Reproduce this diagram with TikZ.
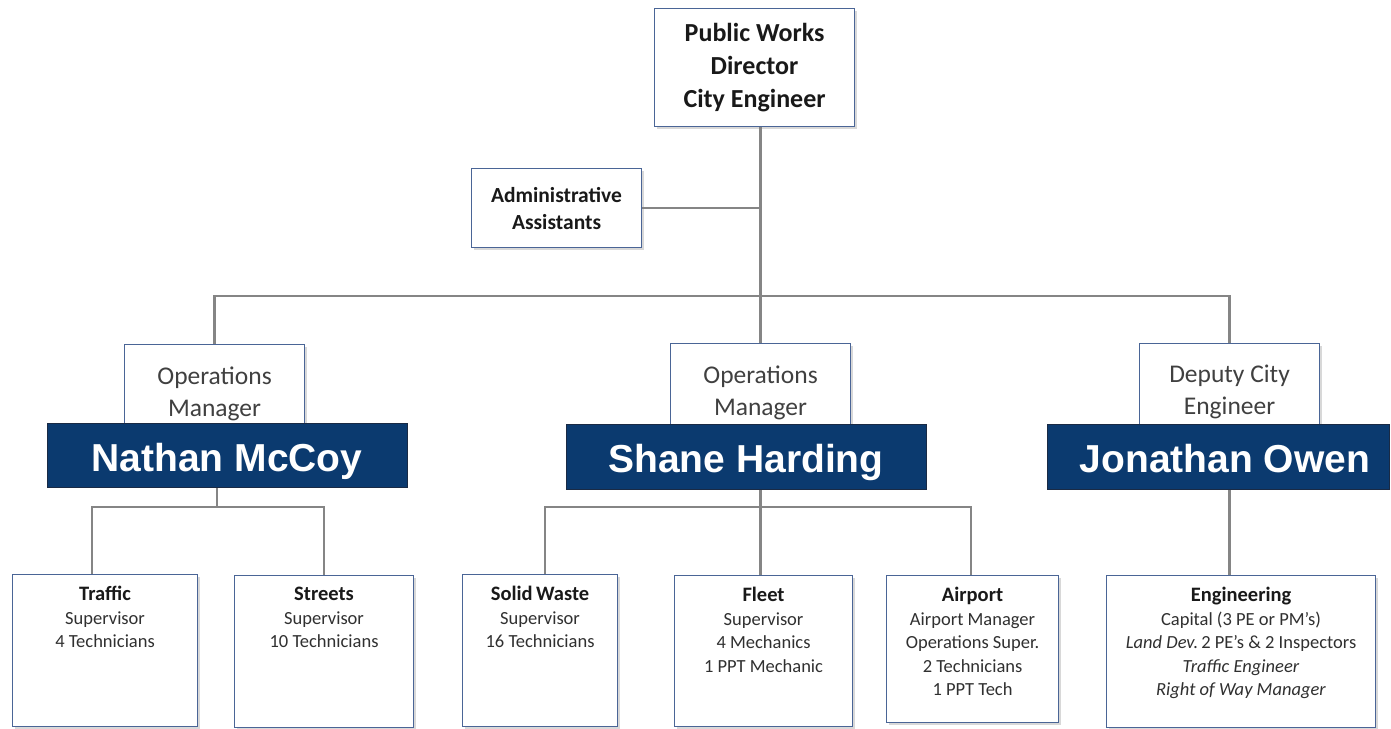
\documentclass[tikz,border=0pt]{standalone}
\usepackage{fontspec}
\setmainfont{Carlito}
\newfontfamily\arialfont{Liberation Sans}
\usetikzlibrary{shadows}
\definecolor{boxline}{HTML}{4A6596}
\definecolor{navy}{HTML}{0B3A6F}
\definecolor{navyline}{HTML}{1A2A44}
\definecolor{conncol}{HTML}{858585}
\definecolor{mgrtext}{HTML}{404040}
\definecolor{bodytext}{HTML}{303030}
\pgfdeclarelayer{bg}
\pgfdeclarelayer{paper}
\pgfsetlayers{paper,bg,main}
\begin{document}
\begin{tikzpicture}[x=1pt,y=-1pt,
  box/.style={draw=boxline, line width=1.1pt, fill=white,
    drop shadow={shadow xshift=2.5pt, shadow yshift=-2.5pt, opacity=0.3},
    inner sep=0pt, anchor=north west, align=center},
  topfont/.style={font=\fontsize{26}{33}\selectfont\bfseries, text=black!90},
  adminfont/.style={font=\fontsize{21.5}{27}\selectfont\bfseries, text=black!90},
  mgrfont/.style={font=\fontsize{25.5}{32}\selectfont, text=mgrtext},
  banner/.style={draw=navyline, line width=1pt, fill=navy, text=white, inner sep=0pt,
    text height=32pt, text depth=0pt,
    font=\arialfont\bfseries\fontsize{39}{45}\selectfont},
  unittext/.style={anchor=north, inner sep=0pt, align=center, yshift=-12pt,
    font=\fontsize{18.5}{23.5}\selectfont, text=bodytext},
  connector/.style={draw=conncol, line width=2.4pt}
]
\begin{pgfonlayer}{paper}
\useasboundingbox[fill=white] (0,0) rectangle (1391,727);
\end{pgfonlayer}

% top level
\node[box, topfont, minimum width=200pt, minimum height=118pt] (dir) at (654,8)
  {Public Works\\Director\\City Engineer};
\node[box, adminfont, minimum width=170pt, minimum height=79pt] (admin) at (471,168)
  {Administrative\\Assistants};

% managers
\node[box, mgrfont, minimum width=180pt, minimum height=98pt] (mgrL) at (124,344)
  {Operations\\Manager};
\node[box, mgrfont, minimum width=180pt, minimum height=98pt] (mgrM) at (670,343)
  {Operations\\Manager};
\node[box, mgrfont, minimum width=180pt, minimum height=96pt] (mgrR) at (1139,343)
  {Deputy City\\Engineer};

% name banners
\node[banner, minimum width=360pt, minimum height=64pt] (nameL) at (227,455) {Nathan McCoy};
\node[banner, minimum width=360pt, minimum height=65pt] (nameM) at (746,456.5) {Shane Harding};
\node[banner, minimum width=342pt, minimum height=65pt] (nameR) at (1218,456.5) {\hspace*{14pt}Jonathan Owen};

% units
\node[box, minimum width=185pt, minimum height=152pt] (traffic) at (12,574) {};
\node[unittext] (trafficT) at (traffic.north)
  {{\fontsize{20.5}{23.5}\selectfont\bfseries\color{black!90}Traffic}\\Supervisor\\4 Technicians};
\node[box, minimum width=179pt, minimum height=152pt] (streets) at (234,575) {};
\node[unittext] (streetsT) at (streets.north)
  {{\fontsize{20.5}{23.5}\selectfont\bfseries\color{black!90}Streets}\\Supervisor\\10 Technicians};
\node[box, minimum width=155pt, minimum height=152pt] (waste) at (462,574) {};
\node[unittext] (wasteT) at (waste.north)
  {{\fontsize{20.5}{23.5}\selectfont\bfseries\color{black!90}Solid\,Waste}\\Supervisor\\16 Technicians};
\node[box, minimum width=178pt, minimum height=151pt] (fleet) at (674,575) {};
\node[unittext] (fleetT) at (fleet.north)
  {{\fontsize{20.5}{23.5}\selectfont\bfseries\color{black!90}Fleet}\\Supervisor\\4 Mechanics\\1 PPT Mechanic};
\node[box, minimum width=172pt, minimum height=147pt] (airport) at (886,575) {};
\node[unittext] (airportT) at (airport.north)
  {{\fontsize{20.5}{23.5}\selectfont\bfseries\color{black!90}Airport}\\Airport Manager\\Operations Super.\\2 Technicians\\1 PPT Tech};
\node[box, minimum width=269pt, minimum height=152pt] (eng) at (1106,575) {};
\node[unittext] (engT) at (eng.north)
  {{\fontsize{20.5}{23.5}\selectfont\bfseries\color{black!90}Engineering}\\Capital (3 PE or PM’s)\\\textit{Land Dev.}\,2 PE’s \& 2 Inspectors\\\textit{Traffic Engineer}\\\textit{Right of Way Manager}};

% connector helper coordinates
\coordinate (busTop) at (0,296);
\coordinate (busL) at (0,507);
\coordinate (busM) at (0,507);
\coordinate (ldrop) at (217,487);
\coordinate (tdrop) at (92,574);
\coordinate (wdrop) at (545,574);
\coordinate (adrop) at (971,575);

\begin{pgfonlayer}{bg}
  \path[connector] (dir.south -| mgrM.north) -- (mgrM.north);
  \path[connector] (admin.east) -- (admin.east -| mgrM.north);
  \path[connector] (mgrL.north) -- (mgrL.north |- busTop) -- (mgrR.north |- busTop) -- (mgrR.north);
  % left group
  \path[connector] (ldrop |- nameL.south) -- (ldrop |- busL);
  \path[connector] (tdrop) -- (tdrop |- busL) -- (streets.north |- busL) -- (streets.north);
  % middle group
  \path[connector] (mgrM.south |- nameM.south) -- (mgrM.south |- fleet.north);
  \path[connector] (wdrop) -- (wdrop |- busM) -- (adrop |- busM) -- (adrop);
  % right group
  \path[connector] (mgrR.south |- nameR.south) -- (mgrR.south |- eng.north);
\end{pgfonlayer}
\end{tikzpicture}
\end{document}
